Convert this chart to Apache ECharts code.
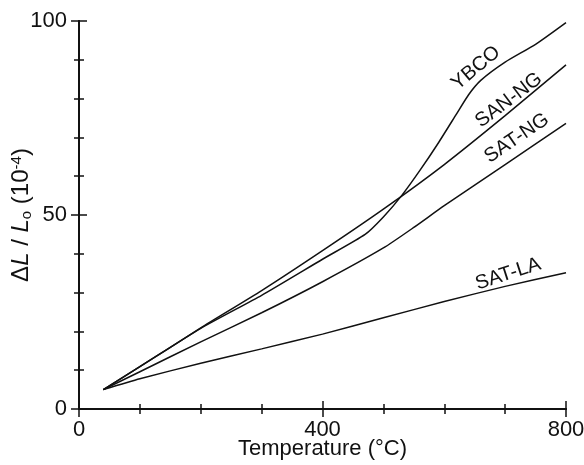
<!DOCTYPE html>
<html>
<head>
<meta charset="utf-8">
<script src="https://cdn.jsdelivr.net/npm/echarts@6/dist/echarts.min.js"></script>
<style>
    html, body { margin: 0; padding: 0; background: #fff; }
    #chart { width: 584px; height: 465px; }
</style>
</head>
<body>
<div id="chart"></div>
<script>
// 数据 (T in °C, ΔL/L0 in 1e-4)
const ybco = [[40, 5], [100, 10.9], [200, 20.8], [300, 29.3], [400, 38.6], [470, 45], [500, 49.5], [530, 55], [560, 61.5], [590, 68.5], [620, 76], [640, 81], [660, 84.7], [700, 89.4], [750, 94], [800, 99.6]]
const sanNg = [[40, 5], [100, 10.9], [200, 20.9], [300, 30.5], [400, 40.8], [500, 51.5], [600, 63], [700, 75.6], [800, 88.7]]
const satNg = [[40, 5], [100, 9.6], [200, 17.3], [300, 24.8], [400, 32.8], [500, 41.5], [550, 46.8], [600, 52.4], [700, 63], [800, 73.6]]
const satLa = [[40, 5], [100, 7.8], [200, 11.8], [300, 15.5], [400, 19.3], [500, 23.5], [600, 27.7], [700, 31.6], [800, 35.1]]

const seriesNames = ['YBCO', 'SAN-NG', 'SAT-NG', 'SAT-LA']
// label anchor (data coords) and rotation
const labelAt = [[652, 87.9], [706, 79.6], [719, 69.8], [705, 34.8]]
const labelRotate = [40, 37, 34, 18]

const xTicks = [0, 400, 800]
const yTicks = [0, 50, 100]

const font = 'Liberation Sans, Arial, sans-serif'
const ink = '#111'

const chart = echarts.init(document.getElementById('chart'))

const frameAxis = {
    axisLine: { show: true, lineStyle: { color: ink, width: 2 } },
    axisTick: { show: true, inside: true, length: 8, lineStyle: { color: ink, width: 1.5 } },
    minorTick: { show: true, splitNumber: 4, length: 5, lineStyle: { color: ink, width: 1.5 } },
    splitLine: { show: false },
    minorSplitLine: { show: false },
}

const dataSets = [ybco, sanNg, satNg, satLa]

const option = {
    animation: false,
    grid: { left: 79, right: 18, top: 21, bottom: 56, outerBoundsMode: 'none', containLabel: false },
    xAxis: [
        {
            type: 'value', min: 0, max: 800, interval: 400, position: 'bottom',
            ...frameAxis,
            axisLabel: {
                color: ink, fontSize: 22, fontFamily: font, margin: 10,
                formatter: v => (xTicks.includes(v) ? String(v) : ''),
            },
            name: 'Temperature (°C)',
            nameLocation: 'middle',
            nameGap: 29,
            nameMoveOverlap: false,
            nameTextStyle: { color: ink, fontSize: 22, fontFamily: font },
        },
        {
            type: 'value', min: 0, max: 800, interval: 400, position: 'top',
            ...frameAxis,
            axisLabel: { show: false },
        },
    ],
    yAxis: [
        {
            type: 'value', min: 0, max: 100, interval: 50, position: 'left',
            ...frameAxis,
            minorTick: { ...frameAxis.minorTick, splitNumber: 5 },
            axisLabel: {
                color: ink, fontSize: 22, fontFamily: font, margin: 12,
                formatter: v => (yTicks.includes(v) ? String(v) : ''),
            },
            name: '{n|Δ}{i|L}{n| / }{i|L}{sub|o}{n| (10}{sup|-4}{n|)}',
            nameLocation: 'middle',
            nameRotate: 90,
            nameGap: 45,
            nameMoveOverlap: false,
            nameTextStyle: {
                color: ink, fontFamily: font,
                rich: {
                    n: { fontSize: 24, fontFamily: font, color: ink },
                    i: { fontSize: 24, fontFamily: font, fontStyle: 'italic', color: ink },
                    sub: { fontSize: 15, fontFamily: font, color: ink, padding: [10, 0, 0, 0] },
                    sup: { fontSize: 15, fontFamily: font, color: ink, padding: [0, 0, 10, 0] },
                },
            },
        },
        {
            type: 'value', min: 0, max: 100, interval: 50, position: 'right',
            ...frameAxis,
            minorTick: { ...frameAxis.minorTick, splitNumber: 5 },
            axisLabel: { show: false },
        },
    ],
    series: dataSets.map((d, i) => ({
        name: seriesNames[i],
        type: 'line',
        data: d,
        showSymbol: false,
        symbol: 'none',
        smooth: 0.2,
        lineStyle: { color: ink, width: 1.5 },
        markPoint: {
            symbol: 'circle',
            symbolSize: 0,
            data: [{ coord: labelAt[i] }],
            label: {
                show: true,
                formatter: seriesNames[i],
                position: 'inside',
                rotate: labelRotate[i],
                color: ink,
                fontSize: 20,
                fontFamily: font,
            },
        },
    })),
}

option && chart.setOption(option)
</script>
</body>
</html>
